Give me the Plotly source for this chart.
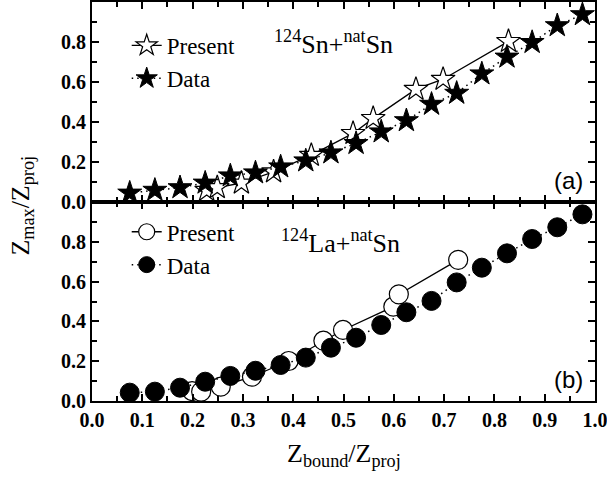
import plotly.graph_objects as go

# Panel (a): 124Sn + natSn
a_present_x = [0.228, 0.249, 0.297, 0.361, 0.436, 0.519, 0.559, 0.644, 0.698, 0.828]
a_present_y = [0.059, 0.072, 0.095, 0.151, 0.234, 0.343, 0.418, 0.564, 0.614, 0.803]
a_data_x = [0.075, 0.125, 0.175, 0.225, 0.275, 0.325, 0.375, 0.425, 0.475, 0.525,
            0.575, 0.625, 0.675, 0.725, 0.775, 0.825, 0.875, 0.925, 0.975]
a_data_y = [0.045, 0.059, 0.072, 0.095, 0.131, 0.146, 0.176, 0.206, 0.246, 0.293,
            0.351, 0.407, 0.489, 0.544, 0.641, 0.725, 0.798, 0.882, 0.937]

# Panel (b): 124La + natSn
b_present_x = [0.199, 0.217, 0.256, 0.318, 0.391, 0.460, 0.499, 0.599, 0.610, 0.728]
b_present_y = [0.050, 0.047, 0.072, 0.122, 0.201, 0.303, 0.357, 0.474, 0.536, 0.709]
b_data_x = [0.075, 0.125, 0.175, 0.225, 0.275, 0.325, 0.375, 0.425, 0.475, 0.525,
            0.575, 0.625, 0.675, 0.725, 0.775, 0.825, 0.875, 0.925, 0.975]
b_data_y = [0.042, 0.047, 0.067, 0.097, 0.126, 0.152, 0.181, 0.218, 0.268, 0.318,
            0.382, 0.446, 0.503, 0.596, 0.670, 0.742, 0.814, 0.873, 0.938]

x_ticks = [0.0, 0.1, 0.2, 0.3, 0.4, 0.5, 0.6, 0.7, 0.8, 0.9, 1.0]
x_minor = [0.05, 0.15, 0.25, 0.35, 0.45, 0.55, 0.65, 0.75, 0.85, 0.95]
y_ticks = [0.0, 0.2, 0.4, 0.6, 0.8]
y_minor = [0.1, 0.3, 0.5, 0.7, 0.9]

SERIF = "Liberation Serif, Times New Roman, serif"
DOT = "1.5px,4px"

fig = go.Figure()

fig.add_trace(go.Scatter(x=a_present_x, y=a_present_y, mode="lines+markers", name="Present",
                         line=dict(color="black", width=1.3),
                         marker=dict(symbol="star", size=18, color="white", line=dict(color="black", width=1.2)),
                         xaxis="x2", yaxis="y2", legend="legend"))
fig.add_trace(go.Scatter(x=a_data_x, y=a_data_y, mode="lines+markers", name="Data",
                         line=dict(color="black", width=1.5, dash=DOT),
                         marker=dict(symbol="star", size=18, color="black", line=dict(color="black", width=1)),
                         xaxis="x2", yaxis="y2", legend="legend"))
fig.add_trace(go.Scatter(x=b_present_x, y=b_present_y, mode="lines+markers", name="Present",
                         line=dict(color="black", width=1.3),
                         marker=dict(symbol="circle", size=19, color="white", line=dict(color="black", width=1.2)),
                         xaxis="x", yaxis="y", legend="legend2"))
fig.add_trace(go.Scatter(x=b_data_x, y=b_data_y, mode="lines+markers", name="Data",
                         line=dict(color="black", width=1.5, dash=DOT),
                         marker=dict(symbol="circle", size=19, color="black", line=dict(color="black", width=1)),
                         xaxis="x", yaxis="y", legend="legend2"))

split = 199 / 399
tickfont = dict(family=SERIF, size=20, color="black", weight=700)

common_x = dict(range=[0, 1], tickvals=x_ticks, ticktext=[f"<b>{v:.1f}</b>" for v in x_ticks],
                ticks="inside", ticklen=7, tickwidth=1.5, tickcolor="black",
                showline=True, linewidth=2, linecolor="black", mirror="allticks",
                minor=dict(tickvals=x_minor, ticks="inside", ticklen=5, tickwidth=1.5, tickcolor="black"),
                showgrid=False, zeroline=False, automargin=False, ticklabeloverflow="allow")
common_y = dict(range=[0, 1], tickvals=y_ticks, ticktext=[f"<b>{v:.1f}</b>" for v in y_ticks],
                ticks="inside", ticklen=7, tickwidth=1.5, tickcolor="black",
                showline=True, linewidth=2, linecolor="black", mirror="allticks",
                minor=dict(tickvals=y_minor, ticks="inside", ticklen=5, tickwidth=1.5, tickcolor="black"),
                showgrid=False, zeroline=False, automargin=False, tickfont=tickfont,
                ticklabeloverflow="allow")

legend_font = dict(family=SERIF, size=23, color="black")

fig.update_layout(
    width=607, height=479,
    margin=dict(l=92, r=12, t=2, b=78, autoexpand=False),
    font=dict(family=SERIF, color="black"),
    paper_bgcolor="white", plot_bgcolor="white",
    xaxis=dict(domain=[0, 1], anchor="y", tickfont=tickfont, **common_x),
    yaxis=dict(domain=[0, split], anchor="x", **common_y),
    xaxis2=dict(domain=[0, 1], anchor="y2", showticklabels=False, **common_x),
    yaxis2=dict(domain=[split, 1], anchor="x2", **common_y),
    legend=dict(x=0.069, y=0.945, xanchor="left", yanchor="top", bgcolor="rgba(0,0,0,0)",
                font=legend_font, tracegroupgap=0, borderwidth=0),
    legend2=dict(x=0.069, y=0.478, xanchor="left", yanchor="top", bgcolor="rgba(0,0,0,0)",
                 font=legend_font, tracegroupgap=0, borderwidth=0),
    showlegend=True,
)

annotations = [
    dict(text="<sup>124</sup>Sn+<sup>nat</sup>Sn", x=0.481, y=0.80, xref="x2", yref="y2",
         xanchor="center", yanchor="middle",
         showarrow=False, font=dict(family=SERIF, size=26, color="black")),
    dict(text="<sup>124</sup>La+<sup>nat</sup>Sn", x=0.495, y=0.80, xref="x", yref="y",
         xanchor="center", yanchor="middle",
         showarrow=False, font=dict(family=SERIF, size=26, color="black")),
    dict(text="(a)", x=0.948, y=0.11, xref="x2", yref="y2", showarrow=False,
         xanchor="center", yanchor="middle",
         font=dict(family="Liberation Sans, Arial, sans-serif", size=24, color="black")),
    dict(text="(b)", x=0.948, y=0.11, xref="x", yref="y", showarrow=False,
         xanchor="center", yanchor="middle",
         font=dict(family="Liberation Sans, Arial, sans-serif", size=24, color="black")),
    dict(text="Z<sub>max</sub>/Z<sub>proj</sub>", x=-0.139, y=0.49, xref="paper", yref="paper",
         xanchor="center", yanchor="middle",
         textangle=-90, showarrow=False, font=dict(family=SERIF, size=26, color="black")),
    dict(text="Z<sub>bound</sub>/Z<sub>proj</sub>", x=0.5, y=-0.135, xref="paper", yref="paper",
         xanchor="center", yanchor="middle",
         showarrow=False, font=dict(family=SERIF, size=26, color="black")),
]
fig.update_layout(annotations=annotations)

fig.write_html("out.html", config={"displayModeBar": False},
               post_script="document.body.style.margin='0';")
